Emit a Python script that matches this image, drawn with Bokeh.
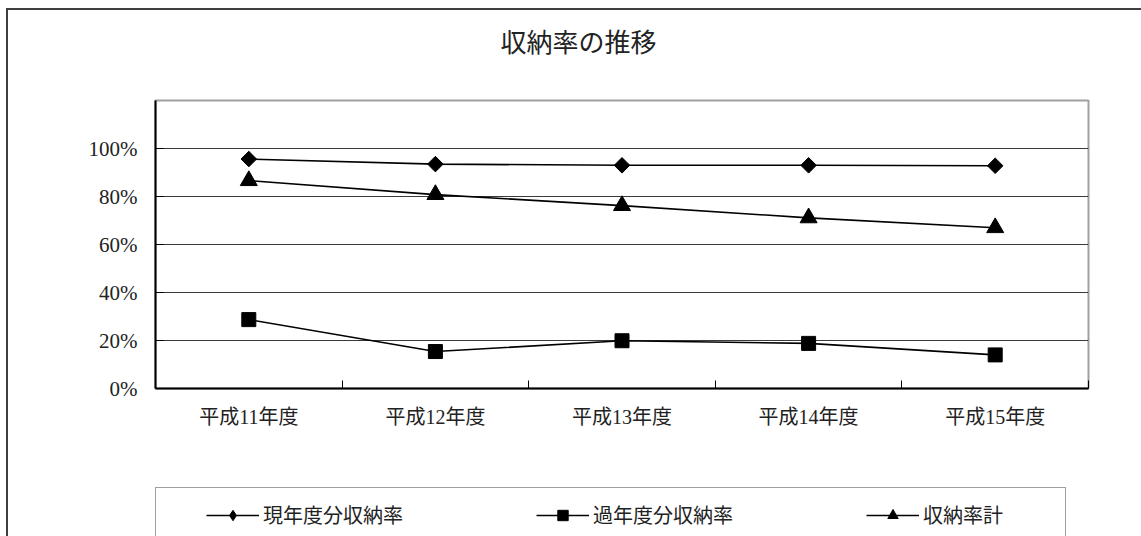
import math
from bokeh.plotting import figure
from bokeh.layouts import column
from bokeh.models import (FixedTicker, NumeralTickFormatter, Range1d, Legend,
                          LegendItem, Title)
from bokeh.embed import file_html
from bokeh.resources import INLINE

# ---- data ----
categories = ["平成11年度", "平成12年度", "平成13年度", "平成14年度", "平成15年度"]
current_rate = [0.956, 0.935, 0.930, 0.930, 0.928]   # 現年度分収納率
past_rate = [0.287, 0.154, 0.199, 0.188, 0.140]      # 過年度分収納率
total_rate = [0.866, 0.808, 0.762, 0.711, 0.670]     # 収納率計
series_names = ["現年度分収納率", "過年度分収納率", "収納率計"]
y_ticks = [0, 0.2, 0.4, 0.6, 0.8, 1.0]
chart_title = "収納率の推移"

x_idx = list(range(len(categories)))
label_map = {i: c for i, c in enumerate(categories)}

SERIF = "'Liberation Serif', 'Noto Sans CJK JP'"
SANS = "Noto Sans CJK JP"
W = 1133
H_MAIN = 440
H_LEG = 86

p = figure(width=W, height=H_MAIN, output_backend="svg", toolbar_location=None,
           title=None,
           x_range=Range1d(-0.5, len(categories) - 0.5), y_range=Range1d(0, 1.2),
           min_border_left=147, min_border_right=53, min_border_top=90,
           min_border_bottom=H_MAIN - 90 - 288)
p.background_fill_color = "white"
p.border_fill_color = "white"
p.outline_line_color = "#a0a0a0"
p.outline_line_width = 2

# axes
xa = p.below[0]
ya = p.left[0]

xa.ticker = FixedTicker(ticks=x_idx, minor_ticks=[i - 0.5 for i in range(len(categories) + 1)])
xa.major_label_overrides = label_map
xa.major_tick_in = 0
xa.major_tick_out = 0
xa.minor_tick_in = 8
xa.minor_tick_out = 0
xa.minor_tick_line_color = "black"
xa.axis_line_color = "black"
xa.axis_line_width = 2
xa.major_label_text_font = SERIF
xa.major_label_text_font_size = "20px"
xa.major_label_text_color = "#222222"
xa.major_label_standoff = 17

ya.ticker = FixedTicker(ticks=y_ticks)
ya.formatter = NumeralTickFormatter(format="0%")
ya.major_tick_in = 8
ya.major_tick_out = 0
ya.major_tick_line_color = "black"
ya.minor_tick_line_color = None
ya.axis_line_color = "black"
ya.axis_line_width = 2
ya.major_label_text_font = SERIF
ya.major_label_text_font_size = "21px"
ya.major_label_text_color = "#222222"
ya.major_label_standoff = 18

p.xgrid.visible = False
p.ygrid.ticker = FixedTicker(ticks=y_ticks)
p.ygrid.grid_line_color = "#3a3a3a"
p.ygrid.grid_line_width = 1

# title (the trailing empty line only reserves room below it)
t = Title(text=chart_title + "\n", align="left", offset=345, standoff=6,
          vertical_align="top",
          text_font=SANS, text_font_size="26px", text_font_style="normal",
          text_color="#222222")
p.add_layout(t, "above")


def draw_series(fig, legend_strip=False):
    l1 = fig.line(x_idx, current_rate, line_color="black", line_width=1.6)
    if legend_strip:
        m1 = fig.scatter(x_idx, current_rate, marker="diamond", size=15,
                         fill_color="black", line_color="black")
    else:
        m1 = fig.scatter(x_idx, current_rate, marker="square", angle=math.pi / 4, size=11,
                         fill_color="black", line_color="black")
    l2 = fig.line(x_idx, past_rate, line_color="black", line_width=1.6)
    m2 = fig.scatter(x_idx, past_rate, marker="square", size=14,
                     fill_color="black", line_color="black")
    l3 = fig.line(x_idx, total_rate, line_color="black", line_width=1.6)
    m3 = fig.scatter(x_idx, total_rate, marker="triangle", size=17,
                     fill_color="black", line_color="black")
    return [(l1, m1), (l2, m2), (l3, m3)]


draw_series(p)

# legend strip: same series, ranges set so only the legend shows
pl = figure(width=W, height=H_LEG, output_backend="svg", toolbar_location=None,
            title=None, x_axis_location=None, y_axis_location=None,
            x_range=Range1d(-0.5, len(categories) - 0.5), y_range=Range1d(5, 6),
            min_border=0)
pl.grid.visible = False
pl.outline_line_color = None
pl.background_fill_color = "white"
pl.border_fill_color = "white"
pairs = draw_series(pl, legend_strip=True)

legend = Legend(items=[LegendItem(label=series_names[i], renderers=list(pairs[i]))
                       for i in range(3)],
                orientation="horizontal", location=(0, -6), margin=0)
legend.glyph_width = 53
legend.glyph_height = 26
legend.label_standoff = 4
legend.label_width = 142
legend.label_height = 20
legend.spacing = 131
legend.label_text_font = SANS
legend.label_text_font_size = "20px"
legend.label_text_color = "#222222"
legend.border_line_color = "#404040"
legend.border_line_width = 1.5
legend.background_fill_color = "white"
try:
    legend.padding = dict(left=50, right=0, top=12, bottom=12)
except Exception:
    legend.padding = 12
pl.add_layout(legend, "center")

layout = column(p, pl, spacing=0)
layout.styles = {"margin-left": "6px", "margin-top": "8px",
                 "border-top": "2px solid #404040", "border-left": "2px solid #404040"}

open("out.html", "w").write(file_html(layout, INLINE))
